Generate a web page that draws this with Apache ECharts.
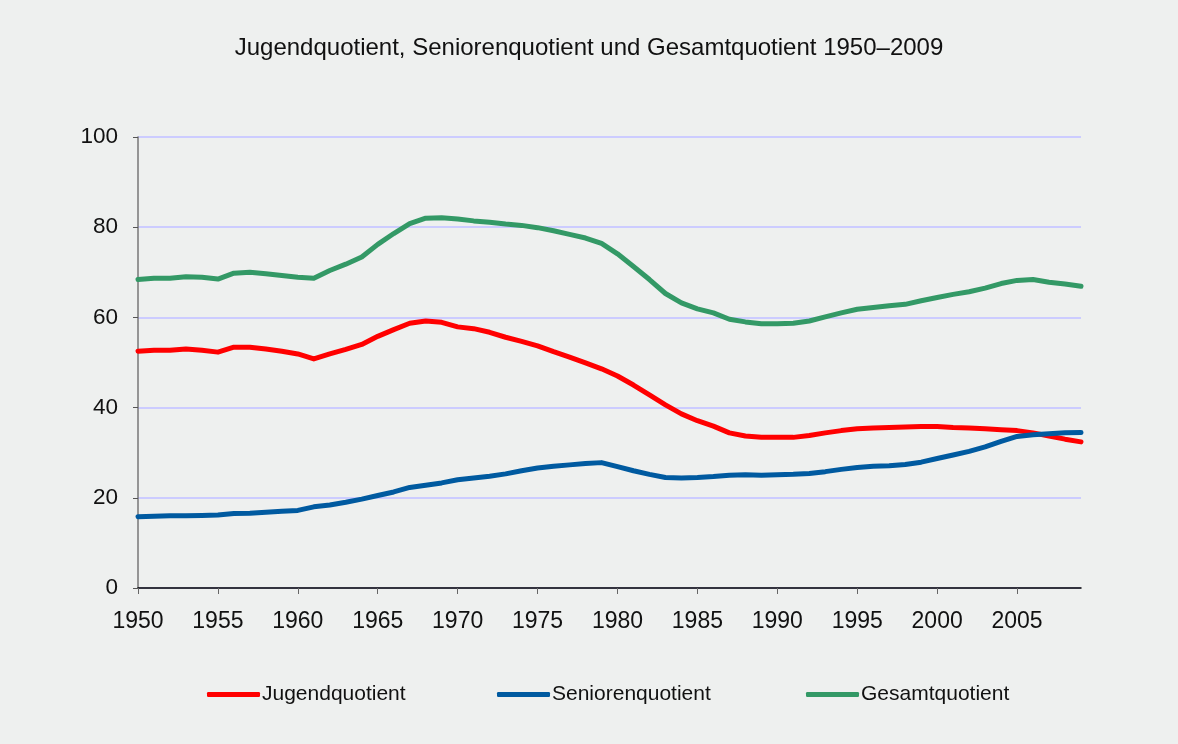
<!DOCTYPE html>
<html>
<head>
<meta charset="utf-8">
<script src="https://cdn.jsdelivr.net/npm/echarts@6/dist/echarts.min.js"></script>
<style>
  html, body { margin: 0; padding: 0; background: #eef0ef; }
  #main { width: 1178px; height: 744px; }
</style>
</head>
<body>
<div id="main"></div>
<script>
var years = [];
for (var y = 1950; y <= 2009; y++) years.push(String(y));

var jugend = [
  52.5, 52.7, 52.7, 53.0, 52.7, 52.3, 53.4, 53.4, 53.0, 52.5,
  51.9, 50.8, 51.9, 52.9, 54.0, 55.8, 57.3, 58.7, 59.2, 58.9,
  57.9, 57.5, 56.7, 55.6, 54.7, 53.7, 52.4, 51.2, 49.9, 48.6,
  47.0, 45.0, 42.8, 40.6, 38.6, 37.1, 35.9, 34.4, 33.7, 33.4,
  33.4, 33.4, 33.8, 34.4, 34.9, 35.3, 35.5, 35.6, 35.7, 35.8,
  35.8, 35.6, 35.5, 35.3, 35.1, 34.9, 34.4, 33.7, 33.0, 32.4
];
var senioren = [
  15.8, 15.9, 16.0, 16.0, 16.1, 16.2, 16.5, 16.6, 16.8, 17.0,
  17.2, 18.0, 18.4, 19.0, 19.7, 20.5, 21.3, 22.3, 22.8, 23.3,
  24.0, 24.4, 24.8, 25.3, 26.0, 26.6, 27.0, 27.3, 27.6, 27.8,
  26.9, 26.0, 25.2, 24.5, 24.4, 24.5, 24.7, 25.0, 25.1, 25.0,
  25.1, 25.2, 25.4, 25.8, 26.3, 26.7, 27.0, 27.1, 27.4, 27.9,
  28.7, 29.5, 30.3, 31.3, 32.5, 33.6, 34.0, 34.2, 34.4, 34.5
];
var gesamt = [
  68.4, 68.7, 68.7, 69.0, 68.9, 68.5, 69.8, 70.0, 69.7, 69.3,
  68.9, 68.7, 70.4, 71.8, 73.4, 76.2, 78.6, 80.8, 82.0, 82.1,
  81.8, 81.4, 81.1, 80.7, 80.4, 79.9, 79.2, 78.4, 77.6, 76.4,
  74.1, 71.3, 68.4, 65.3, 63.2, 61.9, 61.0, 59.6, 59.0, 58.6,
  58.6, 58.7, 59.2, 60.1, 61.0, 61.8, 62.2, 62.6, 62.9, 63.7,
  64.4, 65.1, 65.7, 66.5, 67.5, 68.2, 68.4, 67.8, 67.4, 66.9
];
var yTicks = [0, 20, 40, 60, 80, 100];

var font = 'Liberation Sans, Arial, sans-serif';
var chart = echarts.init(document.getElementById('main'));

function legendAt(name, left) {
  return {
    data: [name],
    left: left,
    top: 679,
    selectedMode: false,
    icon: 'roundRect',
    itemWidth: 53,
    itemHeight: 5,
    itemGap: 0,
    textStyle: { fontFamily: font, fontSize: 21, color: '#111', padding: [0, 0, 0, -3] }
  };
}

function lineSeries(name, color, data) {
  return {
    name: name,
    type: 'line',
    data: data,
    symbol: 'none',
    smooth: false,
    lineStyle: { color: color, width: 5, cap: 'round', join: 'round' },
    itemStyle: { color: color }
  };
}

chart.setOption({
  animation: false,
  backgroundColor: '#eef0ef',
  title: {
    text: 'Jugendquotient, Seniorenquotient und Gesamtquotient 1950–2009',
    left: 'center',
    top: 31,
    textStyle: { fontFamily: font, fontSize: 24, fontWeight: 'normal', color: '#111' }
  },
  legend: [
    legendAt('Jugendquotient', 202),
    legendAt('Seniorenquotient', 492),
    legendAt('Gesamtquotient', 801)
  ],
  grid: { left: 138, right: 97, top: 137, bottom: 156, containLabel: false },
  xAxis: {
    type: 'category',
    data: years,
    boundaryGap: false,
    axisLine: { lineStyle: { color: '#000', width: 1.5 } },
    axisTick: { interval: 4, length: 6, lineStyle: { color: '#666' } },
    axisLabel: { interval: 4, margin: 22, fontFamily: font, fontSize: 23, color: '#111' },
    splitLine: { show: false }
  },
  yAxis: {
    type: 'value',
    min: yTicks[0],
    max: yTicks[yTicks.length - 1],
    interval: 20,
    axisLine: { show: true, lineStyle: { color: '#777', width: 1.5 } },
    axisTick: { show: true, length: 5, lineStyle: { color: '#555' } },
    axisLabel: { margin: 20, fontFamily: font, fontSize: 22.5, color: '#111' },
    splitLine: { lineStyle: { color: '#ccccff', width: 2 } }
  },
  series: [
    lineSeries('Jugendquotient', '#ff0000', jugend),
    lineSeries('Seniorenquotient', '#005aa0', senioren),
    lineSeries('Gesamtquotient', '#339966', gesamt)
  ]
});
</script>
</body>
</html>
